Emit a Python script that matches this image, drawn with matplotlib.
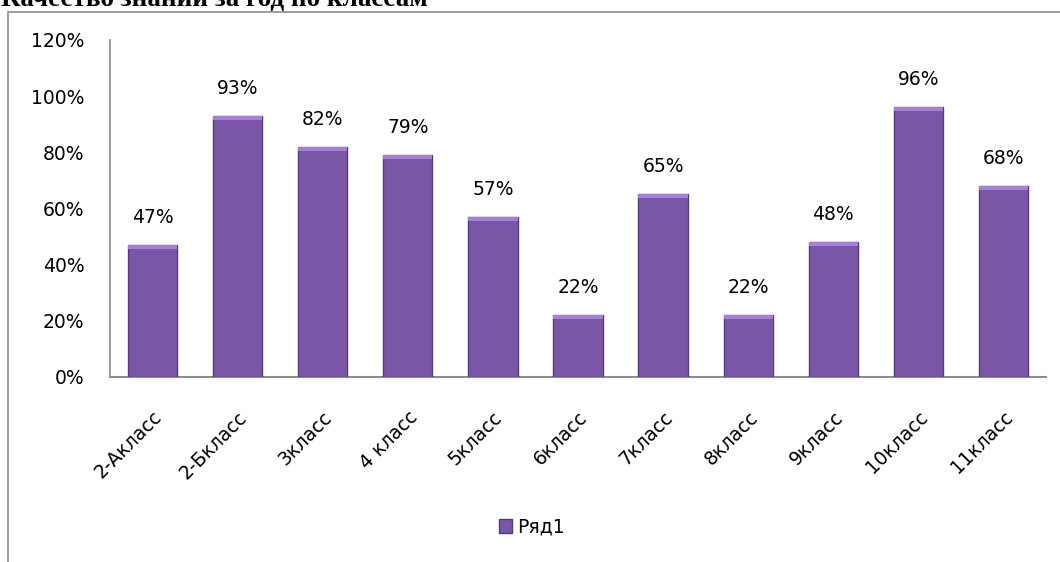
import matplotlib
matplotlib.use("Agg")
import matplotlib.pyplot as plt
from matplotlib.patches import Rectangle
from matplotlib.ticker import FuncFormatter, MultipleLocator

categories = ["2-Акласс", "2-Бкласс", "3класс", "4 класс", "5класс", "6класс",
              "7класс", "8класс", "9класс", "10класс", "11класс"]
values = [0.47, 0.93, 0.82, 0.79, 0.57, 0.22, 0.65, 0.22, 0.48, 0.96, 0.68]
series_name = "Ряд1"
title = "Качество знаний за год по классам"

W, H = 1060, 562
fig = plt.figure(figsize=(W / 100, H / 100), dpi=100)
plt.rcParams['font.family'] = ['DejaVu Sans']
FS = 13.5

# outer chart frame (partially clipped like the reference)
frame = Rectangle((8 / W, -0.05), 1.2, (H - 12) / H + 0.05, transform=fig.transFigure,
                  fill=False, edgecolor='#8c8c8c', linewidth=1.2)
fig.add_artist(frame)

# title, cut at the top edge as in the reference
fig.text(1 / W, 1 - 6 / H, title, family='Liberation Serif', fontweight='bold',
         fontsize=19.5, ha='left', va='baseline', color='black')

ax = fig.add_axes([110 / W, 1 - 377 / H, (1046 - 110) / W, (377 - 40) / H])
x = list(range(len(categories)))
bars = ax.bar(x, values, width=0.58, color='#7A57A6', edgecolor='#56397C',
              linewidth=1.0, label=series_name, zorder=3)

# bevel highlight on top of each bar
for b in bars:
    bx, bw, bh = b.get_x(), b.get_width(), b.get_height()
    ax.add_patch(Rectangle((bx, bh - 0.014), bw, 0.014, facecolor='#A481D4',
                           edgecolor='none', zorder=4))

for xi, v in zip(x, values):
    ax.annotate(f"{round(v * 100)}%", (xi, v), xytext=(0, 13), textcoords='offset points',
                ha='center', va='bottom', fontsize=FS, color='black')

ax.set_xlim(-0.5, len(categories) - 0.5)
ax.set_ylim(0, 1.2)
ax.yaxis.set_major_locator(MultipleLocator(0.2))
ax.yaxis.set_major_formatter(FuncFormatter(lambda v, p: f"{round(v * 100)}%"))
ax.set_xticks(x)
ax.set_xticklabels(categories, rotation=45, ha='right', rotation_mode='anchor')
ax.tick_params(axis='both', length=0, labelsize=FS)
ax.tick_params(axis='y', pad=18.5)
ax.tick_params(axis='x', pad=22)
for s in ['top', 'right']:
    ax.spines[s].set_visible(False)
ax.spines['left'].set_color('#8c8c8c')
ax.spines['bottom'].set_color('#8c8c8c')
ax.spines['left'].set_linewidth(1.2)
ax.spines['bottom'].set_linewidth(1.5)

fig.legend(handles=[bars], labels=[series_name], loc='center',
           bbox_to_anchor=(532 / W, 1 - 527 / H), frameon=False, fontsize=FS,
           handlelength=0.7, handleheight=0.7, handletextpad=0.3)

fig.savefig("out.png", dpi=100)
